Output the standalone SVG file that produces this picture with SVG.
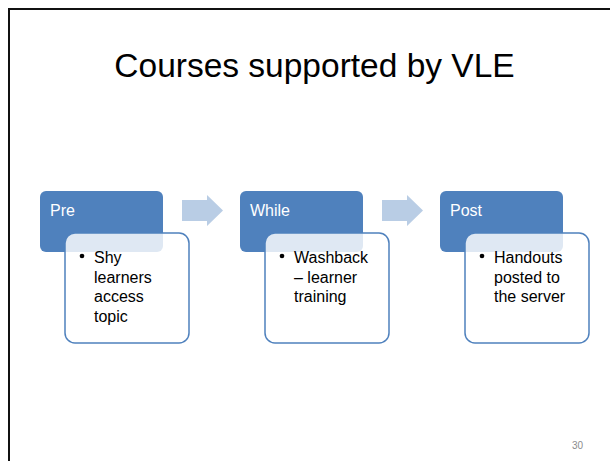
<svg xmlns="http://www.w3.org/2000/svg" width="610" height="461" viewBox="0 0 610 461">
<style>
text{font-family:"Liberation Sans",Arial,sans-serif}
.head{fill:#4f81bd}
.card{fill:#ffffff;fill-opacity:0.82;stroke:#4f81bd;stroke-width:1.5}
.ht{fill:#ffffff;font-size:16px}
.bt{fill:#000000;font-size:16px}
.arrow{fill:#b9cde5}
</style>
<defs>
<path id="arr" d="M0,5 H25 V0 L41,15.5 L25,31 V26 H0 Z"/>
</defs>
<rect x="0" y="0" width="610" height="461" fill="#ffffff"/>
<rect x="9" y="9" width="700" height="600" fill="none" stroke="#111111" stroke-width="2"/>
<text x="314.5" y="77" text-anchor="middle" font-size="33.5" fill="#000000">Courses supported by VLE</text>
<g id="connectors">
<use href="#arr" class="arrow" x="182" y="195"/>
<use href="#arr" class="arrow" x="382" y="195"/>
</g>
<g id="node-pre">
<rect class="head" x="40" y="191" width="123" height="61" rx="6"/>
<text class="ht" x="50" y="216">Pre</text>
<rect class="card" x="65" y="233" width="124" height="110" rx="10"/>
<circle cx="82" cy="256" r="2.3"/>
<text class="bt" x="94" y="263">Shy</text>
<text class="bt" x="94" y="282.5">learners</text>
<text class="bt" x="94" y="302">access</text>
<text class="bt" x="94" y="321.5">topic</text>
</g>
<g id="node-while">
<rect class="head" x="240" y="191" width="123" height="61" rx="6"/>
<text class="ht" x="250" y="216">While</text>
<rect class="card" x="265" y="233" width="124" height="110" rx="10"/>
<circle cx="282" cy="256" r="2.3"/>
<text class="bt" x="294" y="263">Washback</text>
<text class="bt" x="294" y="282.5">– learner</text>
<text class="bt" x="294" y="302">training</text>
</g>
<g id="node-post">
<rect class="head" x="440" y="191" width="123" height="61" rx="6"/>
<text class="ht" x="450" y="216">Post</text>
<rect class="card" x="465" y="233" width="124" height="110" rx="10"/>
<circle cx="482" cy="256" r="2.3"/>
<text class="bt" x="494" y="263">Handouts</text>
<text class="bt" x="494" y="282.5">posted to</text>
<text class="bt" x="494" y="302">the server</text>
</g>
<text x="583" y="449" text-anchor="end" font-size="10" fill="#8c8c8c">30</text>
</svg>
